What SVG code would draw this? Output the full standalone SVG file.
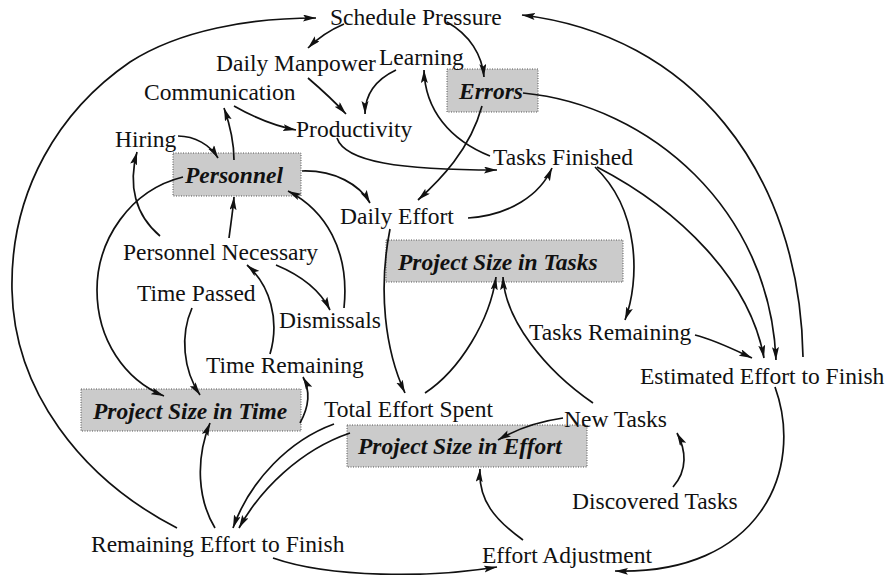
<svg xmlns="http://www.w3.org/2000/svg" width="893" height="575" viewBox="0 0 893 575">
  <style>
    .lbl { font-family: "Liberation Serif", "Times New Roman", serif; font-size: 23.5px; fill: #111; }
    .stock { font-family: "Liberation Serif", "Times New Roman", serif; font-size: 23.5px; font-weight: bold; font-style: italic; fill: #111; }
    .box { fill: #cbcbcb; stroke: #555; stroke-width: 1; stroke-dasharray: 1 1.5; }
    .link { fill: none; stroke: #111; stroke-width: 1.7; }
    .arr { marker-end: url(#head); }
  </style>
  <defs>
    <marker id="head" markerUnits="userSpaceOnUse" markerWidth="14" markerHeight="8" refX="13" refY="3.5" orient="auto">
      <path d="M0,0 L13,3.5 L0,7 L2.5,3.5 z" fill="#111"/>
    </marker>
  </defs>
  <rect width="893" height="575" fill="#fff"/>

  <!-- stock boxes -->
  <g id="errors"><rect class="box" x="447" y="69" width="91" height="43"/><text class="stock" x="459" y="99">Errors</text></g>
  <g id="personnel"><rect class="box" x="173" y="153" width="128" height="43"/><text class="stock" x="185" y="183">Personnel</text></g>
  <g id="size-tasks"><rect class="box" x="386" y="240" width="237" height="42"/><text class="stock" x="398" y="270">Project Size in Tasks</text></g>
  <g id="size-time"><rect class="box" x="81" y="389" width="220" height="42"/><text class="stock" x="93" y="419">Project Size in Time</text></g>
  <g id="size-effort"><rect class="box" x="347" y="425" width="240" height="42"/><text class="stock" x="358" y="454">Project Size in Effort</text></g>

  <g id="connectors">
    <!-- outer loop: remaining effort back to schedule pressure -->
    <path class="link arr" d="M177,528 C80,478 14,390 12,290 C10,190 60,110 130,62 C180,30 250,18 316,18"/>
    <path class="link arr" d="M803,357 C800,170 690,35 522,15"/>
    <path class="link arr" d="M523,93 C650,105 770,210 776,360"/>
    <path class="link arr" d="M597,167 C680,210 750,280 764,358"/>
    <path class="link arr" d="M595,167 C640,210 640,280 625,320"/>
    <path class="link arr" d="M695,335 C715,340 735,350 752,358"/>
    <path class="link arr" d="M775,387 C805,470 760,575 615,571"/>
    <path class="link arr" d="M273,558 C330,578 430,578 497,567"/>
    <path class="link arr" d="M523,540 C495,520 478,500 480,469"/>
    <path class="link arr" d="M673,487 C688,470 686,450 677,433"/>
    <path class="link arr" d="M563,418 C535,422 515,430 498,440"/>
    <path class="link arr" d="M593,403 C545,370 505,320 503,277"/>
    <path class="link arr" d="M425,393 C460,370 490,320 496,277"/>
    <path class="link arr" d="M390,229 C378,290 385,350 405,393"/>
    <path class="link arr" d="M468,218 C510,215 540,195 552,168"/>
    <path class="link arr" d="M482,106 C470,150 440,180 418,200"/>
    <path class="link arr" d="M337,138 C345,162 400,170 497,170"/>
    <path class="link arr" d="M490,156 C450,140 425,110 424,70"/>
    <path class="link arr" d="M396,70 C375,80 365,95 365,114"/>
    <path class="link arr" d="M308,78 C322,90 335,102 346,114"/>
    <path class="link arr" d="M344,24 C330,30 318,38 308,48"/>
    <path class="link arr" d="M447,22 C470,35 482,55 484,77"/>
    <path class="link arr" d="M234,106 C255,118 275,126 296,130"/>
    <path class="link arr" d="M234,160 C234,140 230,125 224,108"/>
    <path class="link arr" d="M178,136 C195,136 210,145 218,158"/>
    <path class="link arr" d="M302,171 C335,170 360,185 370,203"/>
    <path class="link arr" d="M229,238 C231,222 233,210 234,197"/>
    <path class="link arr" d="M160,236 C135,215 128,185 137,152"/>
    <path class="link arr" d="M183,177 C130,190 97,240 97,290 C97,340 125,380 164,396"/>
    <path class="link arr" d="M192,308 C180,335 183,370 200,395"/>
    <path class="link arr" d="M270,354 C280,320 270,285 247,265"/>
    <path class="link arr" d="M276,265 C300,275 320,290 330,310"/>
    <path class="link arr" d="M344,308 C350,250 325,210 288,191"/>
    <path class="link arr" d="M300,423 C310,405 310,390 303,377"/>
    <path class="link arr" d="M215,528 C198,500 195,460 210,423"/>
    <path class="link arr" d="M334,424 C290,440 250,480 233,528"/>
    <path class="link arr" d="M350,433 C300,450 260,490 239,528"/>
  </g>

  <!-- auxiliary variables -->
  <g id="schedule-pressure"><text class="lbl" x="330" y="25">Schedule Pressure</text></g>
  <g id="daily-manpower"><text class="lbl" x="216" y="71">Daily Manpower</text></g>
  <g id="learning"><text class="lbl" x="379" y="65">Learning</text></g>
  <g id="communication"><text class="lbl" x="144" y="100">Communication</text></g>
  <g id="productivity"><text class="lbl" x="296" y="137">Productivity</text></g>
  <g id="hiring"><text class="lbl" x="115" y="147">Hiring</text></g>
  <g id="tasks-finished"><text class="lbl" x="493" y="165">Tasks Finished</text></g>
  <g id="daily-effort"><text class="lbl" x="340" y="224">Daily Effort</text></g>
  <g id="personnel-necessary"><text class="lbl" x="123" y="260">Personnel Necessary</text></g>
  <g id="time-passed"><text class="lbl" x="137" y="301">Time Passed</text></g>
  <g id="dismissals"><text class="lbl" x="279" y="328">Dismissals</text></g>
  <g id="tasks-remaining"><text class="lbl" x="529" y="340">Tasks Remaining</text></g>
  <g id="time-remaining"><text class="lbl" x="206" y="373">Time Remaining</text></g>
  <g id="estimated-effort"><text class="lbl" x="640" y="384">Estimated Effort to Finish</text></g>
  <g id="total-effort"><text class="lbl" x="324" y="417">Total Effort Spent</text></g>
  <g id="new-tasks"><text class="lbl" x="564" y="427">New Tasks</text></g>
  <g id="discovered-tasks"><text class="lbl" x="572" y="509">Discovered Tasks</text></g>
  <g id="remaining-effort"><text class="lbl" x="91" y="552">Remaining Effort to Finish</text></g>
  <g id="effort-adjustment"><text class="lbl" x="482" y="563">Effort Adjustment</text></g>
</svg>
